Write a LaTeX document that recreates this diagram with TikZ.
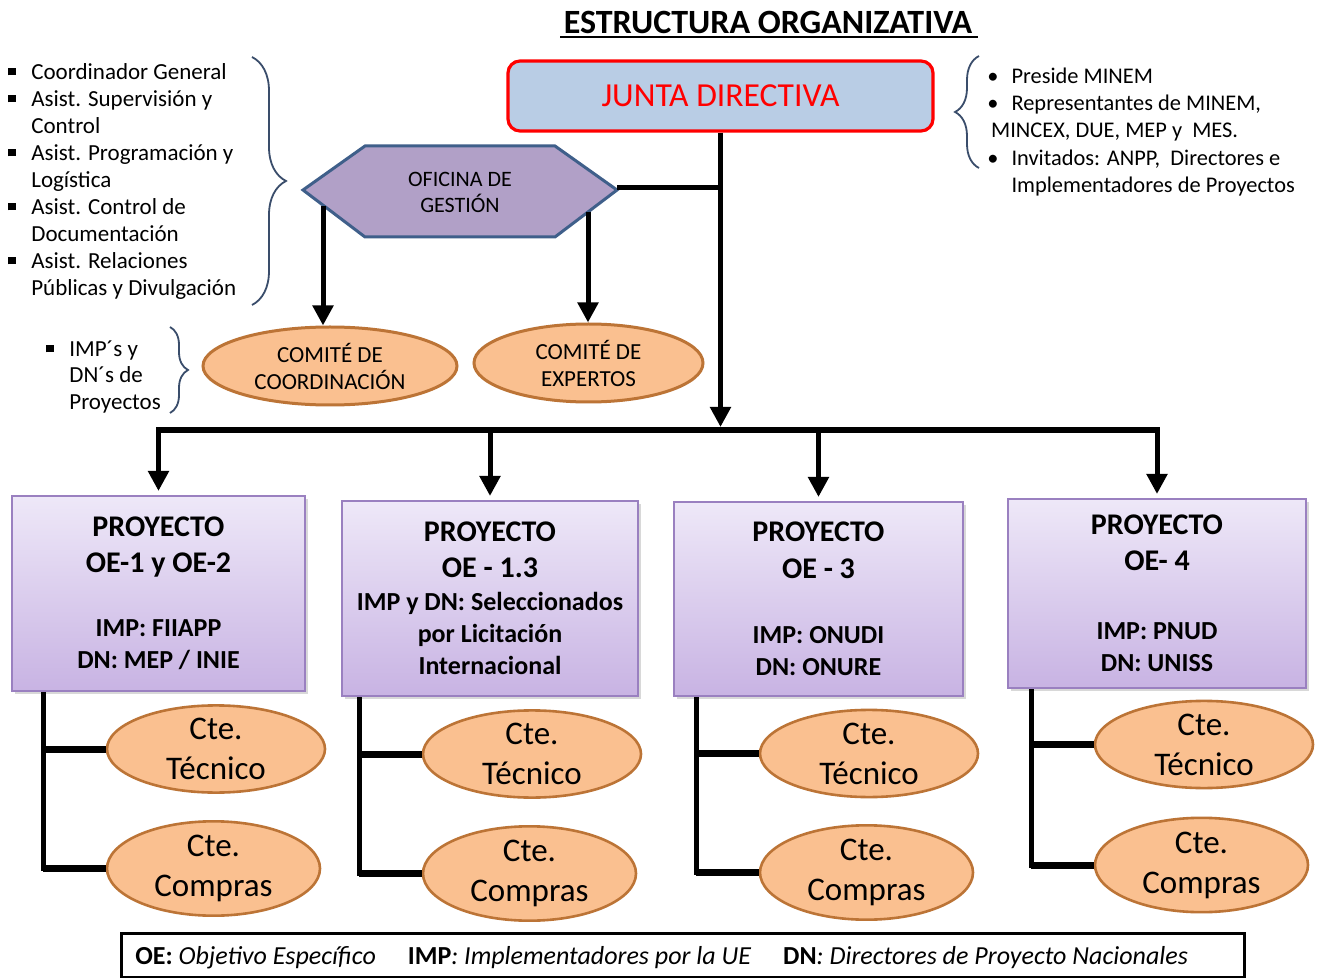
\documentclass[tikz,border=0pt]{standalone}
\usepackage{fontspec}
\setmainfont{Carlito}
\usetikzlibrary{arrows.meta,shapes.geometric,calc,decorations.pathreplacing,shadows}
\definecolor{juntaF}{HTML}{B9CDE5}
\definecolor{hexF}{HTML}{B1A0C7}
\definecolor{hexB}{HTML}{3F5F8A}
\definecolor{ellF}{HTML}{FAC090}
\definecolor{ellB}{HTML}{BC7436}
\definecolor{boxT}{HTML}{EEE8F8}
\definecolor{boxB}{HTML}{C8B3E3}
\definecolor{boxD}{HTML}{9A80C0}
\definecolor{braceC}{HTML}{3A4D6B}
\newcommand{\sqbul}{\rule[0.18em]{0.32em}{0.32em}}
\newcommand{\projhead}[1]{{\fontsize{15}{16}\selectfont #1}}
\begin{document}
\begin{tikzpicture}[x=0.5pt,y=-0.5pt,
  conn/.style={line width=2.5pt},
  hconn/.style={line width=3.5pt},
  arr/.style={line width=2.5pt,-{Triangle[width=10pt,length=10pt]}},
  proj/.style={draw=boxD, line width=1pt, top color=boxT, bottom color=boxB, inner sep=0pt, align=center,
    font=\fontsize{13}{16}\selectfont\bfseries,
    drop shadow={opacity=0.3, shadow xshift=1.5pt, shadow yshift=-1.5pt}},
  cte/.style={ellipse, draw=ellB, fill=ellF, line width=1.3pt, inner sep=0pt, align=center,
    font=\fontsize{16.5}{20}\selectfont},
  comite/.style={ellipse, draw=ellB, fill=ellF, line width=1.5pt, inner sep=0pt, align=center,
    font=\fontsize{11.5}{13.5}\selectfont},
  brc/.style={draw=braceC, line width=0.9pt, decorate, decoration={brace, amplitude=#1}}
]
\path[use as bounding box, fill=white] (0,0) rectangle (1318,978);

% title
\node[font=\fontsize{17}{19}\selectfont\bfseries] (title) at (768,22) {ESTRUCTURA ORGANIZATIVA};
\draw[line width=1.2pt] (560,37) -- (978,37);

% junta
\node[draw=red, line width=1.6pt, fill=juntaF, rounded corners=6pt, minimum width=212.5pt,
  minimum height=35pt, text=red, font=\fontsize{16.8}{20}\selectfont] (junta) at (720.5,96) {JUNTA DIRECTIVA};

% hexagon
\draw[draw=hexB, fill=hexF, line width=1.5pt] (303,190) -- (365,146) -- (555,146) -- (617,190) -- (555,237) -- (365,237) -- cycle;
\node[font=\fontsize{11}{13}\selectfont, align=center] (ofi) at (460,192) {OFICINA DE\\GESTIÓN};
\coordinate (ofiE) at (617,188);
\coordinate (ofiL) at (323,206);
\coordinate (ofiR) at (588,212);

% comites
\node[comite, minimum width=127pt, minimum height=39pt] (cc) at (330,366) {COMITÉ DE\\COORDINACIÓN};
\node[comite, minimum width=114.5pt, minimum height=39pt] (ce) at (588.5,363) {COMITÉ DE\\EXPERTOS};

% projects
\node[proj, minimum width=146.5pt, minimum height=97.5pt] (p1) at (158.5,593.5)
  {\projhead{PROYECTO}\\[2pt]\projhead{OE-1 y OE-2}\\[16pt]IMP: FIIAPP\\DN: MEP / INIE};
\node[proj, minimum width=148pt, minimum height=97.5pt] (p2) at (490,598.5)
  {\projhead{PROYECTO}\\[2pt]\projhead{OE - 1.3}\\[0.5pt]IMP y DN: Seleccionados\\por Licitación\\Internacional};
\node[proj, minimum width=144.5pt, minimum height=97pt] (p3) at (818.5,599)
  {\projhead{PROYECTO}\\[2.5pt]\projhead{OE - 3}\\[16.5pt]IMP: ONUDI\\DN: ONURE};
\node[proj, minimum width=149pt, minimum height=94.5pt] (p4) at (1157,593.5)
  {\projhead{PROYECTO}\\[2pt]\projhead{OE- 4}\\[18.5pt]IMP: PNUD\\DN: UNISS};

% committees per project
\node[cte, minimum width=109pt, minimum height=39pt] (tec1) at (216,749) {Cte.\\Técnico};
\node[cte, minimum width=106.5pt, minimum height=43.5pt] (com1) at (213.5,868.5) {Cte.\\Compras};
\node[cte, minimum width=109pt, minimum height=39pt] (tec2) at (532,754) {Cte.\\Técnico};
\node[cte, minimum width=106.5pt, minimum height=41.5pt] (com2) at (529.5,873.5) {Cte.\\Compras};
\node[cte, minimum width=109pt, minimum height=39.5pt] (tec3) at (869,753.5) {Cte.\\Técnico};
\node[cte, minimum width=106.5pt, minimum height=42.5pt] (com3) at (866.5,872.5) {Cte.\\Compras};
\node[cte, minimum width=109pt, minimum height=39.5pt] (tec4) at (1204,744.5) {Cte.\\Técnico};
\node[cte, minimum width=106.5pt, minimum height=43pt] (com4) at (1201.5,865) {Cte.\\Compras};

% connectors top
\coordinate (bar) at (720,430);
\draw[conn] (ofiE) -- (ofiE -| junta.south);
\draw[arr] (junta.south) -- ($(junta.south |- bar)+(0,-3)$);
\draw[line width=3pt, line cap=rect] (p1.north |- bar) -- (p4.north |- bar);
\draw[arr] (ofiL) -- (ofiL |- cc.north);
\draw[arr] (ofiR) -- (ofiR |- ce.north);
\foreach \p in {p1,p2,p3,p4}{
  \draw[arr, shorten >=2pt] (\p.north |- bar) -- (\p.north);
}

% stems
\coordinate (s1) at ($(p1.south west)+(32,0)$);
\coordinate (s2) at ($(p2.south west)+(18,0)$);
\coordinate (s3) at ($(p3.south west)+(23,0)$);
\coordinate (s4) at ($(p4.south west)+(24,0)$);
\foreach \i in {1,2,3,4}{
  \draw[conn] (s\i) |- (com\i.west);
  \draw[hconn] (s\i |- com\i.west) -- (com\i.west);
  \draw[hconn] (s\i |- tec\i.west) -- (tec\i.west);
}

% braces
\draw[brc=17pt] (252,57) -- (252,305);
\draw[brc=12pt] (979,168) -- (979,56);
\draw[brc=9pt] (170,327) -- (170,413);

% lists
\node[anchor=base west, inner sep=0pt, font=\fontsize{11.5}{13.5}\selectfont] (lst1) at (8,79.5)
 {\begin{tabular}[t]{@{}l@{\hspace{7.8pt}}l@{}}
  \sqbul & Coordinador General\\
  \sqbul & Asist. Supervisión y\\
         & Control\\
  \sqbul & Asist. Programación y\\
         & Logística\\
  \sqbul & Asist. Control de\\
         & Documentación\\
  \sqbul & Asist. Relaciones\\
         & Públicas y Divulgación
 \end{tabular}};
\node[anchor=base west, inner sep=0pt, font=\fontsize{11.2}{13.6}\selectfont] (lst2) at (987,83.5)
 {\begin{tabular}[t]{@{}l@{\hspace{6.5pt}}l@{}}
  • & Preside MINEM\\
  • & Representantes de MINEM,\\
  \multicolumn{2}{@{}l@{}}{\,MINCEX, DUE, MEP y\ \ MES.}\\
  • & Invitados: ANPP,\ \ Directores e\\
    & Implementadores de Proyectos
 \end{tabular}};
\node[anchor=base west, inner sep=0pt, font=\fontsize{11.5}{13.25}\selectfont] (lst3) at (46,356.5)
 {\begin{tabular}[t]{@{}l@{\hspace{7.8pt}}l@{}}
  \sqbul & IMP´s y\\
         & DN´s de\\
         & Proyectos
 \end{tabular}};

% legend
\node[draw, line width=1.5pt, minimum width=561.5pt, minimum height=22pt, inner sep=0pt] (leg) at (682.5,955.5) {};
\node[anchor=base west, inner sep=0pt, font=\fontsize{13}{15}\selectfont] (legt) at (135,964.5)
 {\textbf{OE:} \textit{Objetivo Específico}\hspace{16pt}\textbf{IMP}\textit{: Implementadores por la UE}\hspace{16pt}\textbf{DN}\textit{: Directores de Proyecto Nacionales}};
\end{tikzpicture}
\end{document}
